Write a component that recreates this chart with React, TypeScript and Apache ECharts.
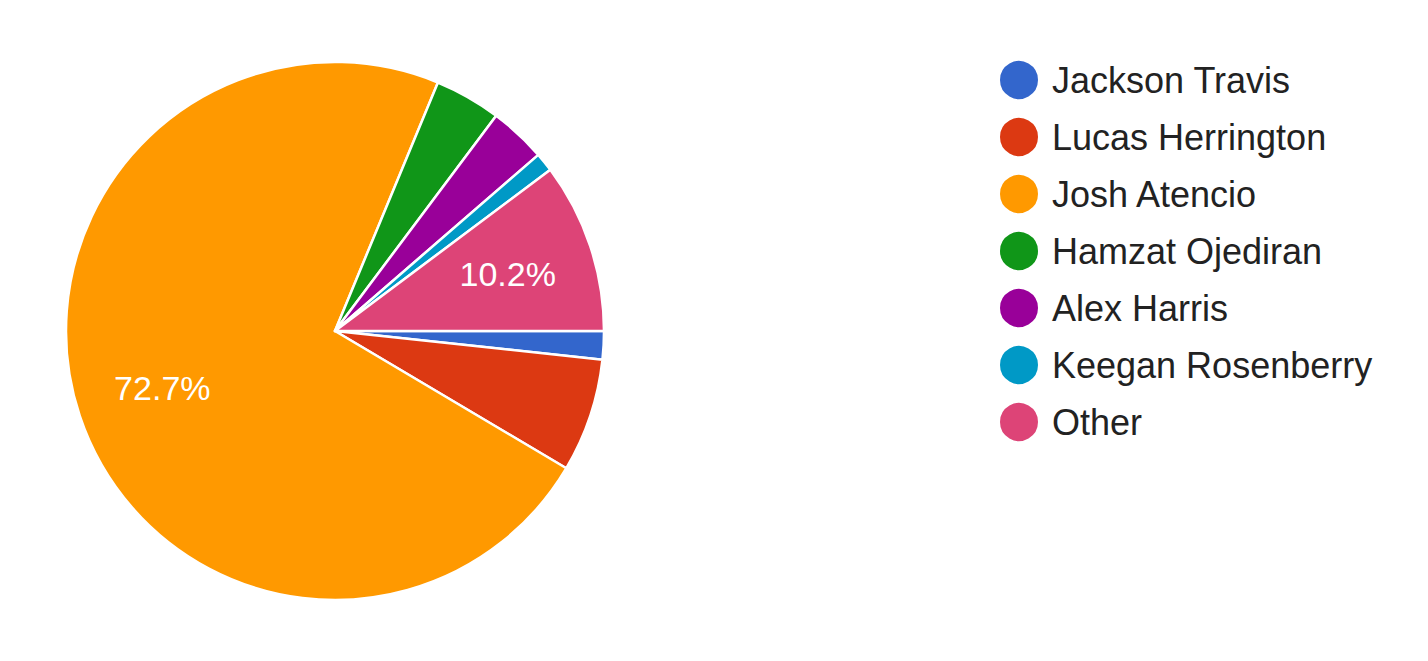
import React, { useEffect, useRef } from "react";
import * as echarts from "echarts";

const names = [
  "Jackson Travis",
  "Lucas Herrington",
  "Josh Atencio",
  "Hamzat Ojediran",
  "Alex Harris",
  "Keegan Rosenberry",
  "Other",
];
const counts = [3, 12, 128, 7, 6, 2, 18];
const colors = ["#3366cc", "#dc3912", "#ff9900", "#109618", "#990099", "#0099c6", "#dd4477"];

export default function App() {
  const ref = useRef<HTMLDivElement>(null);
  useEffect(() => {
    if (!ref.current) return;
    const chart = echarts.init(ref.current, null, { renderer: "svg" });
    const data = names.map((n, i) => ({ name: n, value: counts[i], itemStyle: { color: colors[i] } }));
    const font = "'Liberation Sans', Arial, sans-serif";
    chart.setOption({
      animation: false,
      backgroundColor: "#ffffff",
      legend: {
        orient: "vertical",
        left: 993,
        top: 54,
        icon: "circle",
        itemWidth: 40,
        itemHeight: 40,
        itemGap: 15,
        data: names,
        textStyle: {
          fontFamily: font,
          fontSize: 36,
          color: "#222222",
          lineHeight: 40,
          padding: [0, 0, 0, 8],
        },
      },
      series: [
        {
          type: "pie",
          center: [335, 331],
          radius: [0, 269],
          startAngle: 0,
          clockwise: true,
          avoidLabelOverlap: false,
          percentPrecision: 1,
          itemStyle: { borderColor: "#ffffff", borderWidth: 2.5 },
          label: { show: false },
          labelLine: { show: false },
          emphasis: { disabled: true },
          data,
        },
        {
          type: "pie",
          center: [335, 331],
          radius: [0, 358],
          startAngle: 0,
          clockwise: true,
          silent: true,
          avoidLabelOverlap: false,
          percentPrecision: 1,
          legendHoverLink: false,
          itemStyle: { color: "transparent", borderWidth: 0 },
          emphasis: { disabled: true },
          labelLine: { show: false },
          label: {
            show: true,
            position: "inside",
            color: "#ffffff",
            fontFamily: font,
            fontSize: 34,
            formatter: (p: any) => (p.percent >= 10 ? p.percent.toFixed(1) + "%" : ""),
          },
          data: names.map((n, i) => ({ name: n, value: counts[i], itemStyle: { color: "transparent" } })),
        },
      ],
    });
    return () => chart.dispose();
  }, []);
  return (
    <div
      ref={ref}
      style={{ position: "fixed", left: 0, top: 0, width: 1428, height: 661 }}
    />
  );
}
